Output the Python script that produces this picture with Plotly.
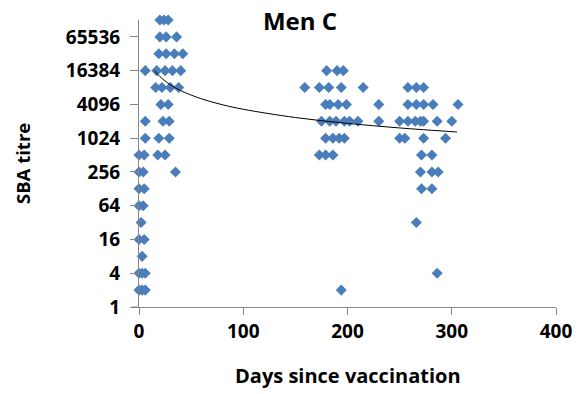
import math
import plotly.graph_objects as go

# ---- data ----
# Pre-/at-vaccination samples (day ~0)
base_days  = [6, 6, 6, 0, 5, 0, 4, 0, 5, 0, 4, 2, 0, 5, 3, 0, 3, 6, 0, 3, 6]
base_titre = [16384, 2048, 1024, 512, 512, 256, 256, 128, 128, 64, 64, 32, 16, 16, 8,
              4, 4, 4, 2, 2, 2]

# Early post-vaccination samples (~15-45 days)
early_days  = [20, 24, 28, 20, 26, 36, 19, 26, 34, 42, 17, 25, 32, 40,
               16, 22, 30, 38, 21, 28, 23, 29, 19, 29, 18, 25, 35]
early_titre = [131072, 131072, 131072, 65536, 65536, 65536,
               32768, 32768, 32768, 32768, 16384, 16384, 16384, 16384,
               8192, 8192, 8192, 8192, 4096, 4096, 2048, 2048, 1024, 1024,
               512, 512, 256]

# ~6 month samples
mid_days  = [180, 190, 196, 159, 173, 182, 194, 215, 179, 183, 191, 199, 230,
             175, 183, 189, 197, 202, 210, 230, 179, 186, 192, 197, 173, 179, 186, 194]
mid_titre = [16384, 16384, 16384, 8192, 8192, 8192, 8192, 8192,
             4096, 4096, 4096, 4096, 4096,
             2048, 2048, 2048, 2048, 2048, 2048, 2048,
             1024, 1024, 1024, 1024, 512, 512, 512, 2]

# ~9 month samples
late_days  = [258, 266, 273, 258, 266, 273, 282, 306,
              250, 258, 265, 270, 273, 286, 300, 250, 255, 273, 294,
              271, 281, 270, 281, 287, 271, 281, 266, 286]
late_titre = [8192, 8192, 8192, 4096, 4096, 4096, 4096, 4096,
              2048, 2048, 2048, 2048, 2048, 2048, 2048, 1024, 1024, 1024, 1024,
              512, 512, 256, 256, 256, 128, 128, 32, 4]

trend_days  = [15, 20, 30, 40, 60, 80, 100, 150, 200, 250, 305]
trend_titre = [16384, 12880, 9180, 7215, 5142, 4043, 3355, 2390, 1880, 1559, 1320]

y_ticks = [1, 4, 16, 64, 256, 1024, 4096, 16384, 65536]
x_ticks = [0, 100, 200, 300, 400]

title_text = "Men C"
x_title = "Days since vaccination"
y_title = "SBA titre"

# ---- figure ----
FONT = "Open Sans"
BLUE = "#4A7EBB"
GREY = "#868686"

all_days = base_days + early_days + mid_days + late_days
all_titre = base_titre + early_titre + mid_titre + late_titre

fig = go.Figure()
fig.add_trace(go.Scatter(
    x=all_days, y=all_titre, mode="markers",
    marker=dict(symbol="diamond", size=8.5, color=BLUE, line=dict(width=0)),
    cliponaxis=False, showlegend=False,
))
fig.add_trace(go.Scatter(
    x=trend_days, y=trend_titre, mode="lines",
    line=dict(color="black", width=1, shape="spline"),
    showlegend=False,
))

fig.update_layout(
    width=577, height=394,
    margin=dict(l=139, r=21, t=20, b=87, autoexpand=False),
    paper_bgcolor="white", plot_bgcolor="white",
    font=dict(family=FONT, color="black"),
    title=dict(text=title_text, x=(300 - 139) / 417, xref="paper", xanchor="center",
               y=1 - 22 / 394, yref="container", yanchor="middle",
               font=dict(family=FONT, size=24, weight="bold", color="black")),
)
fig.update_xaxes(
    range=[0, 400], tickvals=x_ticks, ticktext=[str(v) for v in x_ticks],
    automargin=False,
    showgrid=False, zeroline=False, showline=True, linecolor=GREY, linewidth=1,
    ticks="outside", ticklen=7, tickcolor=GREY, tickwidth=1,
    tickfont=dict(family=FONT, size=19, weight="bold", color="black"),
)
fig.update_yaxes(
    type="log", range=[0, 17 * math.log10(2)], tickvals=y_ticks,
    ticktext=[str(v) for v in y_ticks], automargin=False,
    showgrid=False, zeroline=False, showline=True, linecolor=GREY, linewidth=1,
    ticks="outside", ticklen=8, tickcolor=GREY, tickwidth=1,
    ticklabelstandoff=6,
    tickfont=dict(family=FONT, size=19, weight="bold", color="black"),
)
# short extension of the x-axis line to the left of the y axis
fig.add_shape(type="line", xref="paper", yref="paper", x0=-0.0175, x1=0, y0=0, y1=0,
              line=dict(color=GREY, width=1))

fig.add_annotation(text=x_title, xref="paper", yref="paper", x=0.5, y=(307 - 375) / 287,
                   xanchor="center", yanchor="middle", showarrow=False,
                   font=dict(family=FONT, size=20, weight="bold", color="black"))
fig.add_annotation(text=y_title, xref="paper", yref="paper", x=(22 - 139) / 417,
                   y=(307 - 164) / 287, textangle=-90,
                   xanchor="center", yanchor="middle", showarrow=False,
                   font=dict(family=FONT, size=18.5, weight="bold", color="black"))

fig.write_html("out.html",
               config={"displayModeBar": False},
               post_script="document.body.style.margin='0px';"
                           "document.body.style.overflow='hidden';")
